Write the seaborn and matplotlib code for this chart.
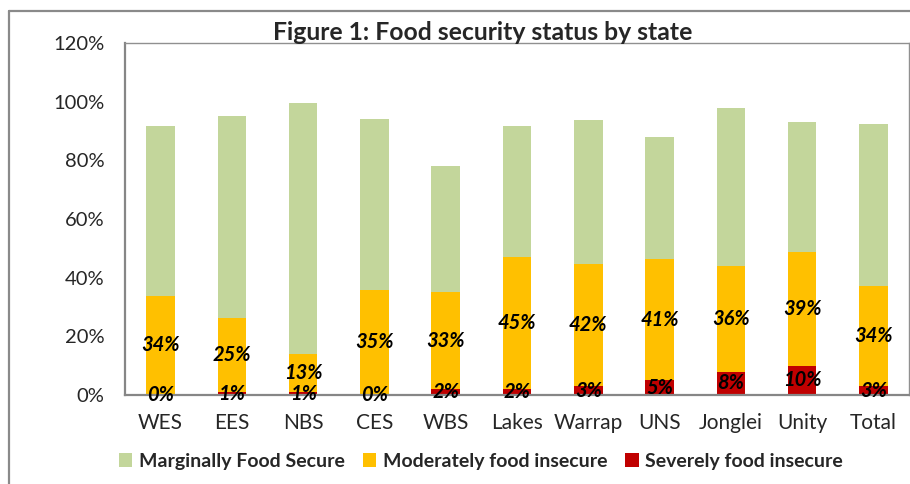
import matplotlib
matplotlib.use("Agg")
import matplotlib.pyplot as plt
import seaborn as sns
import pandas as pd
import numpy as np
from matplotlib.patches import Patch
from matplotlib.lines import Line2D

states = ["WES", "EES", "NBS", "CES", "WBS", "Lakes", "Warrap", "UNS", "Jonglei", "Unity", "Total"]
severe = [0.2, 1.0, 1.0, 0.3, 2.0, 2.0, 3.0, 5.0, 8.0, 10.0, 3.0]
moderate = [33.7, 25.3, 13.0, 35.4, 33.1, 45.0, 41.8, 41.3, 36.0, 38.6, 34.2]
marginal = [57.8, 68.8, 85.5, 58.3, 43.0, 44.7, 49.0, 41.7, 53.9, 44.5, 55.2]

series_names = ["Marginally Food Secure", "Moderately food insecure", "Severely food insecure"]
colors = ["#C3D69B", "#FFC000", "#C00000"]

df = pd.DataFrame({"state": states, "severe": severe, "moderate": moderate, "marginal": marginal})
df["cum_sev"] = df["severe"]
df["cum_mod"] = df["severe"] + df["moderate"]
df["cum_all"] = df["cum_mod"] + df["marginal"]

sns.set_style("white")
plt.rcParams["font.family"] = ["Lato", "DejaVu Sans"]

fig = plt.figure(figsize=(9.10, 4.84), dpi=100)
ax = fig.add_axes([125/910, 1-395/484, (909-125)/910, (395-43)/484])

for col, c in zip(["cum_all", "cum_mod", "cum_sev"], colors):
    sns.barplot(data=df, x="state", y=col, color=c, width=0.4, ax=ax,
                saturation=1, linewidth=0, edgecolor="none", errorbar=None)

# data labels
lab_kw = dict(ha="center", va="center", fontsize=14.5, fontweight="bold",
              fontstyle="italic", color="black")
for i in range(len(states)):
    ax.text(i, df["severe"][i] + df["moderate"][i] / 2, f"{round(df['moderate'][i]):.0f}%", **lab_kw)
    ax.text(i, df["severe"][i] / 2, f"{round(df['severe'][i]):.0f}%", **lab_kw)

ax.set_ylim(0, 120)
ax.set_xlim(-0.5, len(states) - 0.5)
ax.set_yticks(np.arange(0, 121, 20))
ax.set_yticklabels([f"{v}%" for v in range(0, 121, 20)])
ax.set_xlabel("")
ax.set_ylabel("")

# x ticks at category boundaries
ax.set_xticks(np.arange(len(states)))
ax.set_xticklabels(states)
ax.tick_params(axis="x", length=0, pad=13, labelsize=15)
ax.set_xticks(np.arange(-0.5, len(states), 1), minor=True)
ax.tick_params(axis="x", which="minor", length=6, width=1.3, color="#868686", direction="out")
ax.tick_params(axis="y", length=6, width=1.3, color="#868686", direction="out", pad=9, labelsize=14.5)

for s in ax.spines.values():
    s.set_visible(True)
    s.set_color("#909090")
    s.set_linewidth(1.0)
for s in ["left", "bottom"]:
    ax.spines[s].set_linewidth(1.6)
    ax.spines[s].set_color("#868686")

fig.text(483/910, 1-32/484, "Figure 1: Food security status by state", ha="center", va="center",
         fontsize=17.8, fontweight="bold")

handles = [Patch(facecolor=c, edgecolor="none") for c in colors]
fig.legend(handles, series_names, loc="center", bbox_to_anchor=(481/910, 1-461/484), ncol=3,
           frameon=False, prop={"weight": "bold", "size": 14}, handlelength=0.7, handleheight=0.7,
           handletextpad=0.35, columnspacing=0.9)

# outer chart border
fig.add_artist(Line2D([9/910, 9/910], [0, 1-11/484], color="#8a8a8a", lw=1.6, transform=fig.transFigure))
fig.add_artist(Line2D([9/910, 1], [1-11/484, 1-11/484], color="#8a8a8a", lw=1.6, transform=fig.transFigure))

fig.savefig("out.png", dpi=100)
